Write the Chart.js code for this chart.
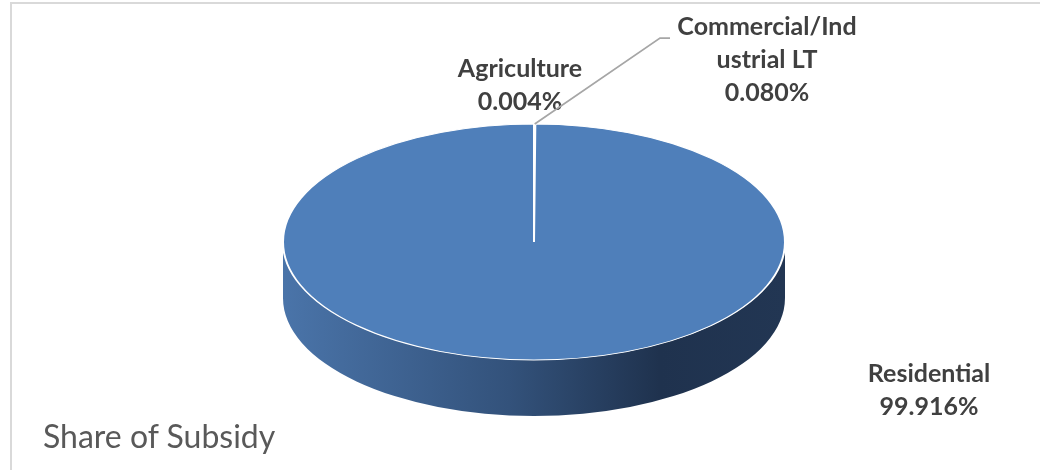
<!DOCTYPE html>
<html>
<head>
<meta charset="utf-8">
<title>Share of Subsidy</title>
<script src="https://cdn.jsdelivr.net/npm/chart.js@4.4.1/dist/chart.umd.min.js"></script>
<style>
    html, body { margin: 0; padding: 0; background: #fff; }
    .chart-box { position: relative; width: 1040px; height: 470px; overflow: hidden; }
    .chart-frame { position: absolute; left: 10px; top: 2px; width: 1100px; height: 540px; border: 2px solid #d9d9d9; box-sizing: border-box; pointer-events: none; }
    .chart-title { position: absolute; left: 43px; top: 420px; font-family: Lato, 'Open Sans', sans-serif; font-size: 32px; line-height: 32px; color: #595959; white-space: nowrap; }
</style>
</head>
<body>
<div class="chart-box">
    <canvas id="subsidyChart"></canvas>
    <div class="chart-frame"></div>
    <div class="chart-title" id="chartTitle"></div>
</div>
<script>
const categories = ['Agriculture', 'Commercial/Industrial LT', 'Residential'];
const shares = [0.004, 0.080, 99.916];
// the wrap Excel used for the data labels
const labelNames = [['Agriculture'], ['Commercial/Ind', 'ustrial LT'], ['Residential']];
const chartTitle = 'Share of Subsidy';

const TILT = 0.47;      // vertical squash of the pie top
const DEPTH = 56;       // thickness of the pie wall
const LINE_H = 33;

// label anchors, relative to pie centre (dx = text centre, base = first baseline)
const labelSpots = [
    { dx: -14, base: -165 },
    { dx: 233, base: -207, elbow: [126, -204], tail: 136 },
    { dx: 395, base: 140 }
];

function wallFill(ctx, cx, r) {
    const g = ctx.createLinearGradient(cx - r, 0, cx + r, 0);
    g.addColorStop(0, '#4a74a9');
    g.addColorStop(0.45, '#33527b');
    g.addColorStop(0.75, '#1f324e');
    g.addColorStop(1, '#223653');
    return g;
}

const pie3dPlugin = {
    id: 'pie3d',
    beforeDatasetsDraw(chart) {
        const ctx = chart.ctx;
        const arcs = chart.getDatasetMeta(0).data;
        const cx = arcs[0].x, cy = arcs[0].y, r = arcs[0].outerRadius;

        // wall: only the front half (0..PI) can be seen
        ctx.save();
        arcs.forEach(arc => {
            for (let k = -1; k <= 1; k++) {
                const lo = Math.max(arc.startAngle, 2 * Math.PI * k);
                const hi = Math.min(arc.endAngle, Math.PI + 2 * Math.PI * k);
                if (hi <= lo) continue;
                const s = lo - 2 * Math.PI * k, e = hi - 2 * Math.PI * k;
                ctx.beginPath();
                ctx.ellipse(cx, cy, r, r * TILT, 0, s, e);
                ctx.ellipse(cx, cy + DEPTH, r, r * TILT, 0, e, s, true);
                ctx.closePath();
                ctx.fillStyle = wallFill(ctx, cx, r);
                ctx.fill();
            }
        });
        ctx.restore();

        ctx.save();
        ctx.translate(cx, cy);
        ctx.scale(1, TILT);
        ctx.translate(-cx, -cy);
    },
    afterDatasetsDraw(chart) {
        const ctx = chart.ctx;
        ctx.restore();

        const arcs = chart.getDatasetMeta(0).data;
        const cx = arcs[0].x, cy = arcs[0].y;
        ctx.save();
        ctx.font = 'bold 25px Lato, "Open Sans", sans-serif';
        ctx.fillStyle = '#404040';
        ctx.textAlign = 'center';
        ctx.textBaseline = 'alphabetic';
        arcs.forEach((arc, i) => {
            const spot = labelSpots[i];
            const lines = labelNames[i].concat([shares[i].toFixed(3) + '%']);
            lines.forEach((t, j) => ctx.fillText(t, cx + spot.dx, cy + spot.base + j * LINE_H));
            if (spot.elbow) {
                const mid = (arc.startAngle + arc.endAngle) / 2;
                const px = cx + arc.outerRadius * Math.cos(mid);
                const py = cy + arc.outerRadius * TILT * Math.sin(mid);
                ctx.beginPath();
                ctx.moveTo(px, py);
                ctx.lineTo(cx + spot.elbow[0], cy + spot.elbow[1]);
                ctx.lineTo(cx + spot.tail, cy + spot.elbow[1]);
                ctx.strokeStyle = '#a6a6a6';
                ctx.lineWidth = 1.75;
                ctx.stroke();
            }
        });
        ctx.restore();
    }
};

document.getElementById('chartTitle').textContent = chartTitle;

new Chart(document.getElementById('subsidyChart'), {
    type: 'pie',
    data: {
        labels: categories,
        datasets: [{
            data: shares,
            backgroundColor: '#4f7fba',
            borderColor: '#ffffff',
            borderWidth: 2,
            radius: 251
        }]
    },
    options: {
        responsive: true,
        maintainAspectRatio: false,
        animation: false,
        layout: { padding: { left: 28, right: 0, top: 14, bottom: 0 } },
        plugins: {
            legend: { display: false },
            tooltip: { enabled: false }
        }
    },
    plugins: [pie3dPlugin]
});
</script>
</body>
</html>
